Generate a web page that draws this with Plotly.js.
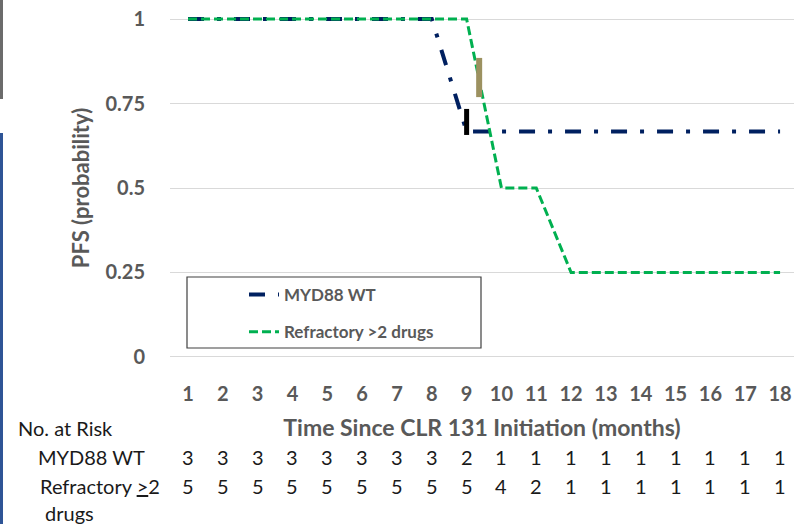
<!DOCTYPE html>
<html>
<head>
<meta charset="utf-8">
<script src="https://cdn.plot.ly/plotly-3.0.1.min.js"></script>
<style>
  html, body { margin: 0; padding: 0; background: #ffffff; }
  #chart { width: 794px; height: 524px; }
</style>
</head>
<body>
<div id="chart"></div>
<script>
// ---- data ----
const months = [1, 2, 3, 4, 5, 6, 7, 8, 9, 10, 11, 12, 13, 14, 15, 16, 17, 18];
const myd88Months = [1, 8, 9, 18];
const myd88PFS = [1, 1, 0.667, 0.667];
const refrMonths = [1, 9, 10, 11, 12, 18];
const refrPFS = [1, 1, 0.5, 0.5, 0.25, 0.25];
const censorMyd88X = [9, 9];
const censorMyd88Y = [0.657, 0.734];
const censorRefrX = [9.36, 9.36];
const censorRefrY = [0.769, 0.885];
const riskMyd88 = [3, 3, 3, 3, 3, 3, 3, 3, 2, 1, 1, 1, 1, 1, 1, 1, 1, 1];
const riskRefr = [5, 5, 5, 5, 5, 5, 5, 5, 5, 4, 2, 1, 1, 1, 1, 1, 1, 1];
const yTicks = [0, 0.25, 0.5, 0.75, 1];
const yTickText = ['0', '0.25', '0.5', '0.75', '1'];

const FONT = 'Lato, "Open Sans", sans-serif';
const GRAY = '#595959';
const NAVY = '#002060';
const GREEN = '#00B050';

const traces = [
  {
    x: myd88Months, y: myd88PFS, type: 'scatter', mode: 'lines',
    name: 'MYD88 WT',
    line: { color: NAVY, width: 4, dash: '16px,13px,4px,13px' },
    legendgroup: 'a'
  },
  {
    x: refrMonths, y: refrPFS, type: 'scatter', mode: 'lines',
    name: 'Refractory &gt;2 drugs',
    line: { color: GREEN, width: 3, dash: '9px,4px' },
    legendgroup: 'b'
  },
  {
    x: censorMyd88X, y: censorMyd88Y, type: 'scatter', mode: 'lines',
    line: { color: '#000000', width: 5 }, showlegend: false, hoverinfo: 'skip'
  },
  {
    x: censorRefrX, y: censorRefrY, type: 'scatter', mode: 'lines',
    line: { color: '#9C9160', width: 6 }, showlegend: false, hoverinfo: 'skip'
  }
];

// plot geometry (for paper-coordinate helpers)
const L = 170, T = 15, W = 624, H = 346;
const px2paperX = px => (px - L) / W;
const px2paperY = py => (T + H - py) / H;

const annotations = [];
const tableFont = { family: FONT, size: 20, color: '#1a1a1a' };
months.forEach((m, i) => {
  annotations.push({
    x: m, xref: 'x', y: px2paperY(457), yref: 'paper',
    text: String(riskMyd88[i]), showarrow: false, font: tableFont,
    xanchor: 'center', yanchor: 'middle'
  });
  annotations.push({
    x: m, xref: 'x', y: px2paperY(486), yref: 'paper',
    text: String(riskRefr[i]), showarrow: false, font: tableFont,
    xanchor: 'center', yanchor: 'middle'
  });
});
const rowLabels = [
  { text: 'No. at Risk', px: 16, py: 428 },
  { text: 'MYD88 WT', px: 36, py: 457 },
  { text: 'Refractory <u>&gt;</u>2', px: 38, py: 486 },
  { text: 'drugs', px: 43, py: 513 }
];
rowLabels.forEach(r => {
  annotations.push({
    x: px2paperX(r.px), xref: 'paper', y: px2paperY(r.py), yref: 'paper',
    text: r.text, showarrow: false, font: tableFont,
    xanchor: 'left', yanchor: 'middle'
  });
});

const layout = {
  width: 794, height: 524,
  margin: { l: L, r: 0, t: T, b: 524 - T - H, pad: 0 },
  paper_bgcolor: '#ffffff', plot_bgcolor: '#ffffff',
  font: { family: FONT, color: GRAY },
  showlegend: true,
  legend: {
    x: px2paperX(244), y: px2paperY(277), xanchor: 'left', yanchor: 'top',
    borderwidth: 0, bgcolor: 'rgba(0,0,0,0)',
    font: { family: FONT, size: 17, color: GRAY, weight: 'bold' },
    tracegroupgap: 12, itemwidth: 30
  },
  xaxis: {
    range: [0.483, 18.40],
    tickmode: 'array', tickvals: months, ticktext: months.map(String),
    showgrid: false, zeroline: false, showline: false,
    ticks: 'outside', ticklen: 15, tickcolor: 'rgba(0,0,0,0)',
    tickfont: { family: FONT, size: 20, color: GRAY, weight: 'bold' },
    title: {
      text: 'Time Since CLR 131 Initiation (months)',
      font: { family: FONT, size: 23, color: GRAY, weight: 'bold' },
      standoff: 15
    },
    fixedrange: true
  },
  yaxis: {
    range: [-0.012, 1.012],
    tickmode: 'array', tickvals: yTicks, ticktext: yTickText,
    showgrid: true, gridcolor: '#d9d9d9', gridwidth: 1,
    zeroline: false, showline: false,
    ticks: 'outside', ticklen: 20, tickcolor: 'rgba(0,0,0,0)',
    tickfont: { family: FONT, size: 20, color: GRAY, weight: 'bold' },
    title: {
      text: 'PFS (probability)',
      font: { family: FONT, size: 22, color: GRAY, weight: 'bold' },
      standoff: 9
    },
    fixedrange: true
  },
  shapes: [
    { type: 'rect', xref: 'paper', yref: 'paper',
      x0: px2paperX(0), x1: px2paperX(3), y0: px2paperY(99), y1: px2paperY(0),
      fillcolor: '#6b6b6b', line: { width: 0 } },
    { type: 'rect', xref: 'paper', yref: 'paper',
      x0: px2paperX(0), x1: px2paperX(3), y0: px2paperY(524), y1: px2paperY(133),
      fillcolor: '#2E5496', line: { width: 0 } },
    { type: 'rect', xref: 'paper', yref: 'paper', layer: 'above',
      x0: px2paperX(187), x1: px2paperX(481), y0: px2paperY(348), y1: px2paperY(277),
      fillcolor: 'rgba(0,0,0,0)', line: { color: '#404040', width: 1.2 } }
  ],
  annotations: annotations
};

Plotly.newPlot('chart', traces, layout, { displayModeBar: false, staticPlot: true });
</script>
</body>
</html>
